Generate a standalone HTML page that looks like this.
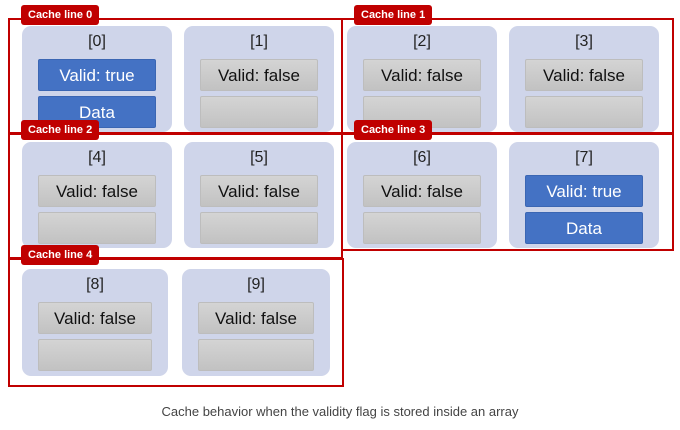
<!DOCTYPE html>
<html><head><meta charset="utf-8"><style>
body{margin:0;width:680px;height:430px;background:#fff;position:relative;overflow:hidden;font-family:"Liberation Sans",sans-serif}
.cl{position:absolute;border:2px solid #c00000;box-sizing:border-box}
.tab{position:absolute;background:#c00000;color:#fff;font-size:11px;font-weight:bold;line-height:20px;height:20px;padding:0 7px;border-radius:3px;white-space:nowrap}
.cell{position:absolute;background:#cfd5ea;border-radius:9px}
.idx{position:absolute;left:0;right:0;text-align:center;font-size:16px;color:#222;top:7px}
.box{position:absolute;border-radius:2px;text-align:center;font-size:17px;line-height:31px;box-sizing:border-box}
.g{background:linear-gradient(#d4d4d4,#c2c2c2);border:1px solid #bdbdbd;color:#111}
.b{background:#4472c4;color:#fff;border:1px solid #3b66b3}
#cap{position:absolute;top:404px;left:0;width:680px;text-align:center;font-size:13px;color:#444}
</style></head><body>
<div id="root"></div>
<div id="cap">Cache behavior when the validity flag is stored inside an array</div>
<script>
const valid=[true,false,false,false,false,false,false,true,false,false];
const cells=[[22,26,150],[184,26,150],[347,26,150],[509,26,150],[22,142,150],[184,142,150],[347,142,150],[509,142,150],[22,269,146],[182,269,148]];
const lines=[[8,18,335,116],[341,18,333,116],[8,133,335,126],[341,133,333,118],[8,258,336,129]];
const root=document.getElementById('root');
lines.forEach((l,i)=>{
 const d=document.createElement('div');d.className='cl';
 
 
 d.style.cssText=`left:${l[0]}px;top:${l[1]}px;width:${l[2]}px;height:${l[3]}px`;
 root.appendChild(d);
});
cells.forEach((c,i)=>{
 const d=document.createElement('div');d.className='cell';
 
 
 const h=i>=8?107:106;
 d.style.cssText=`left:${c[0]}px;top:${c[1]}px;width:${c[2]}px;height:${h}px`;
 const v=valid[i];const cls=v?'b':'g';const bw=c[2]-32;
 d.innerHTML=`<div class="idx">[${i}]</div>`+
 `<div class="box ${cls}" style="left:16px;top:33px;width:${bw}px;height:32px">Valid: ${v?'true':'false'}</div>`+
 `<div class="box ${cls}" style="left:16px;top:70px;width:${bw}px;height:32px">${v?'Data':''}</div>`;
 root.appendChild(d);
});
lines.forEach((l,i)=>{
 const t=document.createElement('div');t.className='tab';
 
 
 t.style.cssText=`left:${l[0]+13}px;top:${l[1]-13}px`;
 t.textContent='Cache line '+i;
 root.appendChild(t);
});
</script>
</body></html>
